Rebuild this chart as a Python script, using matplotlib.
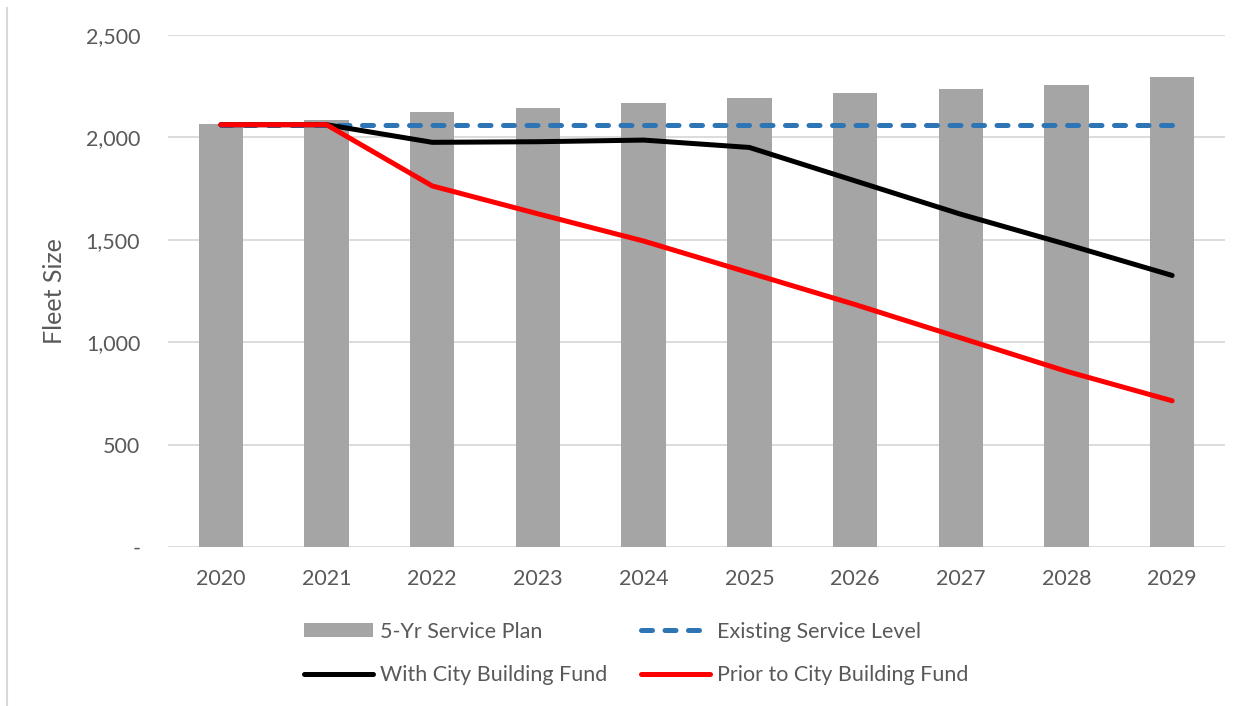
import matplotlib

matplotlib.use("Agg")
import matplotlib.pyplot as plt
import numpy as np
from matplotlib.lines import Line2D
from matplotlib.patches import Patch
from matplotlib.ticker import FuncFormatter

# values
years = [2020, 2021, 2022, 2023, 2024, 2025, 2026, 2027, 2028, 2029]
service_plan = [2065, 2085, 2124, 2144, 2166, 2192, 2215, 2235, 2256, 2295]
existing_level = [2062, 2062, 2062, 2062, 2062, 2062, 2062, 2062, 2062, 2062]
with_fund = [2062, 2062, 1976, 1979, 1987, 1951, 1788, 1625, 1478, 1326]
prior_fund = [2062, 2062, 1763, 1627, 1494, 1339, 1184, 1021, 858, 714]
y_ticks = [0, 500, 1000, 1500, 2000, 2500]

plt.rcParams["font.family"] = ["Lato", "DejaVu Sans"]
text_color = "#595959"
grid_color = "#D9D9D9"
fs = 15.5

fig = plt.figure(figsize=(12.5, 7.06), dpi=100)
ax = fig.add_axes([0.1344, 0.2252, 0.8456, 0.7252])

x = np.arange(len(years))

# bars first, then lines on top
ax.bar(x, service_plan, width=0.42, color="#A5A5A5", zorder=2)
ax.plot(
    x,
    existing_level,
    color="#2E75B6",
    lw=3.6,
    linestyle=(0, (2.2, 2.5)),
    dash_capstyle="round",
    zorder=3,
)
ax.plot(x, with_fund, color="black", lw=3.6, solid_capstyle="round", zorder=4)
ax.plot(x, prior_fund, color="#FF0000", lw=3.6, solid_capstyle="round", zorder=5)

ax.set_xlim(-0.5, len(years) - 0.5)
ax.set_ylim(0, 2500)
ax.set_yticks(y_ticks)
ax.yaxis.set_major_formatter(
    FuncFormatter(lambda v, _: "-" if v == 0 else f"{int(v):,}")
)
ax.set_xticks(x)
ax.set_xticklabels([str(y) for y in years])

ax.grid(axis="y", color=grid_color, lw=1.3, zorder=0)
ax.set_axisbelow(True)
for side in ["top", "right", "left", "bottom"]:
    ax.spines[side].set_visible(False)
ax.tick_params(axis="both", length=0, labelsize=fs, colors=text_color)
ax.tick_params(axis="y", pad=20)
ax.tick_params(axis="x", pad=16)

ax.set_ylabel("Fleet Size", fontsize=18, color=text_color, labelpad=14)

# legend, row-wise order
handles = [
    Patch(facecolor="#A5A5A5", edgecolor="none", label="5-Yr Service Plan"),
    Line2D([0], [0], color="black", lw=3.6, solid_capstyle="round",
           label="With City Building Fund"),
    Line2D([0], [0], color="#2E75B6", lw=3.6, linestyle=(0, (2.2, 2.5)),
           dash_capstyle="round", label="Existing Service Level"),
    Line2D([0], [0], color="#FF0000", lw=3.6, solid_capstyle="round",
           label="Prior to City Building Fund"),
]
fig.legend(
    handles=handles,
    ncol=2,
    loc="center",
    bbox_to_anchor=(0.509, 0.0744),
    frameon=False,
    fontsize=fs,
    labelcolor=text_color,
    handlelength=3.2,
    handleheight=0.6,
    handletextpad=0.3,
    columnspacing=1.6,
    labelspacing=1.1,
)

# thin border line on the left side of the chart area
fig.add_artist(
    Line2D([7 / 1250, 7 / 1250], [0, 1 - 8 / 706], color=grid_color, lw=1.5)
)

plt.savefig("out.png", dpi=100)
plt.close()
